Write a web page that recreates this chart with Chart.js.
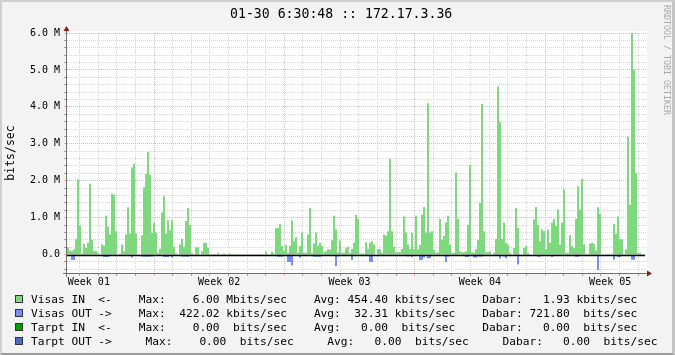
<!DOCTYPE html>
<html>
<head>
<meta charset="utf-8">
<script src="https://cdn.jsdelivr.net/npm/chart.js@4.4.0/dist/chart.umd.min.js"></script>
<style>
  body { margin: 0; background: #fff; }
  #box { position: relative; width: 675px; height: 355px; background: #f3f3f3; overflow: hidden;
         font-family: "DejaVu Sans Mono", monospace; color: #000; }
  #box canvas { position: absolute; left: 0; top: 0; }
  #frame { position: absolute; left: 0; top: 0; width: 675px; height: 355px; box-sizing: border-box;
           border-top: 2px solid #cfcfcf; border-left: 2px solid #cfcfcf;
           border-right: 3px solid #c4c4c4; border-bottom: 2px solid #9c9c9c; pointer-events: none; }
  #title { position: absolute; left: 230px; top: 7px; font-size: 13.2px; line-height: 1; white-space: pre; }
  #wm { position: absolute; left: 662px; top: 5px; font-size: 8.3px; line-height: 10px; color: #a8a8a8;
        writing-mode: vertical-rl; white-space: pre; }
  .row { position: absolute; left: 31px; font-size: 11.2px; line-height: 1; white-space: pre; }
  .sq { position: absolute; left: 15px; width: 6px; height: 6px; border: 1px solid #333; }
</style>
</head>
<body>
<div id="box">
  <canvas id="myChart" width="675" height="355"></canvas>
  <div id="title">01-30 6:30:48 :: 172.17.3.36</div>
  <div id="wm">RRDTOOL / TOBI OETIKER</div>
  <div id="legend"></div>
  <div id="frame"></div>
</div>
<script>
// values in Mbits/sec, one sample per step
const visasIn = [
  0.2, 0.2, 0.11, 0.09, 0.14, 0.43, 2.03, 0.78, 0.02, 0.29,
  0.18, 0.32, 1.92, 0.4, 0.09, 0.1, 0.05, 0, 0.27, 0.24,
  1.05, 0.75, 0.54, 1.65, 1.62, 0.63, 0, 0.03, 0.27, 0.09,
  0.54, 1.28, 0.57, 2.36, 2.46, 0.57, 0, 0, 0.52, 1.82,
  2.18, 2.78, 2.16, 0.58, 0.87, 0.6, 0.05, 0.16, 1.14, 1.58,
  0.57, 0.93, 0.66, 0.93, 0.21, 0.04, 0, 0.27, 0.42, 0.21,
  0.91, 1.26, 0.81, 0.05, 0, 0.2, 0.2, 0, 0.09, 0.32,
  0.32, 0.18, 0, 0, 0, 0, 0.05, 0, 0, 0.03,
  0, 0, 0.03, 0, 0, 0, 0, 0, 0, 0,
  0, 0, 0, 0, 0, 0, 0, 0, 0, 0,
  0.07, 0, 0, 0.07, 0.03, 0.72, 0.72, 0.83, 0.23, 0.11,
  0.26, 0.05, 0.24, 0.92, 0.36, 0.47, 0.05, 0.23, 0.6, 0.05,
  0.05, 0.54, 1.26, 0.05, 0.3, 0.6, 0.24, 0.32, 0.23, 0.06,
  0.09, 0.15, 0.13, 0.39, 1.05, 0.68, 0.06, 0.38, 0.05, 0.05,
  0.17, 0.21, 0.05, 0.15, 0.32, 1.08, 0.96, 0.03, 0.03, 0.03,
  0.33, 0.15, 0.32, 0.36, 0.27, 0, 0.15, 0.15, 0.05, 0.54,
  0.51, 0.63, 2.59, 0.63, 0.21, 0.06, 0.06, 0.06, 0.15, 1.04,
  0.6, 0.27, 0.15, 0.59, 0.15, 1.05, 0.14, 0.26, 1.08, 1.29,
  0.6, 4.1, 0.6, 0.63, 0.12, 0.05, 0.06, 0.96, 0.4, 0.5,
  0.87, 1.05, 0.27, 0.05, 0.05, 2.22, 0.96, 0.09, 0.06, 0.06,
  0.09, 0.81, 2.43, 0.06, 0.05, 0.14, 0.4, 1.4, 4.08, 0.63,
  0.06, 0.06, 0.09, 0, 0.05, 0.42, 4.55, 3.58, 0.42, 0.87,
  0.32, 0.27, 0.05, 0, 0.18, 1.26, 0.72, 0, 0, 0.18,
  0.23, 0.05, 0, 0, 0.95, 1.29, 0.81, 0.36, 0.68, 0.63,
  0.14, 0.68, 0.32, 0.87, 0.96, 0.77, 1.22, 0.27, 0.87, 1.76,
  0.05, 0.05, 0.52, 0.23, 0.18, 0.97, 1.85, 1.22, 2.05, 0.27,
  0.02, 0.02, 0.29, 0.32, 0.29, 0.11, 1.28, 1.1, 0, 0,
  0, 0.02, 0, 0.02, 0.83, 0.56, 1.03, 0.42, 0.41, 0.02,
  0.14, 3.19, 1.35, 6.0, 5.0, 2.2, 0.05, 0.05, 0, 0
];
const visasOut = [
  0, 0, 0, -0.15, -0.15, 0, 0, 0, -0.02, 0,
  0, 0, -0.03, 0, 0, 0, 0, 0, 0, -0.07,
  -0.07, -0.07, 0, -0.04, -0.04, 0, 0, 0, 0, 0,
  0, -0.04, 0, -0.08, 0, -0.04, 0, 0, -0.05, -0.05,
  -0.06, -0.06, -0.05, -0.05, 0, 0, 0, 0, 0, -0.07,
  -0.07, -0.07, 0, -0.08, 0, 0, 0, 0, -0.05, -0.05,
  -0.05, -0.06, 0, 0, 0, 0, 0, 0, 0, 0,
  0, 0, 0, 0, 0, 0, 0, 0, 0, 0,
  0, 0, 0, 0, 0, 0, 0, 0, 0, 0,
  0, 0, 0, 0, 0, 0, 0, 0, 0, 0,
  0, 0, 0, 0, 0, 0, -0.06, -0.06, -0.06, 0,
  0, -0.2, -0.2, -0.3, 0, 0, 0, -0.08, 0, 0,
  0, 0, 0, 0, -0.06, -0.06, -0.06, -0.06, 0, 0,
  -0.02, -0.02, 0, -0.04, -0.04, -0.32, -0.05, 0, 0, 0,
  -0.03, 0, 0, -0.15, -0.04, 0, 0, 0, 0, 0,
  -0.04, 0, -0.2, -0.2, 0, 0, -0.02, 0, 0, 0,
  0, 0, -0.04, 0, -0.04, 0, 0, 0, 0, 0,
  -0.04, -0.05, 0, -0.07, 0, 0, 0, -0.15, -0.15, -0.08,
  0, -0.1, -0.1, 0, 0, 0, -0.04, 0, 0, 0,
  -0.2, -0.05, 0, 0, 0, 0, 0, 0, 0, 0,
  -0.07, -0.07, 0, 0, -0.08, -0.08, -0.05, -0.05, -0.05, 0,
  0, 0, 0, 0, 0, -0.04, -0.04, -0.11, 0, -0.05,
  -0.1, 0, 0, 0, 0, -0.04, -0.27, 0, 0, -0.02,
  0, 0, 0, 0, 0, 0, -0.06, -0.06, 0, 0,
  0, 0, 0, -0.07, 0, 0, -0.04, -0.04, 0, 0,
  0, 0, 0, 0, -0.04, -0.06, -0.06, -0.04, 0, 0,
  0, 0, 0, -0.04, -0.04, 0, -0.42, 0, 0, 0,
  0, 0, 0, 0, -0.14, 0, -0.07, -0.07, 0, 0,
  0, -0.04, -0.04, -0.14, -0.14, 0, 0, 0, 0, 0
];

const weekLabels = ["Week 01", "Week 02", "Week 03", "Week 04", "Week 05"];
const samplesPerDay = 9.31;
const firstWeekStart = -21.67;   // sample index where "Week 01" begins
const yMin = -0.5, yMax = 6.0;

const legendRows = [
  "Visas IN  <-    Max:    6.00 Mbits/sec    Avg: 454.40 kbits/sec    Dabar:   1.93 kbits/sec",
  "Visas OUT ->    Max:  422.02 kbits/sec    Avg:  32.31 kbits/sec    Dabar: 721.80  bits/sec",
  "Tarpt IN  <-    Max:    0.00  bits/sec    Avg:   0.00  bits/sec    Dabar:   0.00  bits/sec",
  "Tarpt OUT ->     Max:    0.00  bits/sec     Avg:   0.00  bits/sec     Dabar:   0.00  bits/sec"
];
const legendColors = ["#7ed97e", "#7b8cf7", "#00a000", "#4f6cc0"];

const inColor = "#7ed97e";
const outColor = "#7b8cf7";
const gridGrey = "#d6d6d6";
const gridRed = "#eeb0b0";

// legend rows
const legend = document.getElementById("legend");
legendRows.forEach((txt, k) => {
  const sq = document.createElement("div");
  sq.className = "sq";
  sq.style.top = (295 + 14 * k) + "px";
  sq.style.background = legendColors[k];
  legend.appendChild(sq);
  const row = document.createElement("div");
  row.className = "row";
  row.style.top = (293.8 + 14 * k) + "px";
  row.textContent = txt;
  legend.appendChild(row);
});

// x ticks: day lines, week lines, and week labels at mid-week
const xTicks = [];
for (let d = 0; ; d++) {
  const v = firstWeekStart + d * samplesPerDay;
  if (v > visasIn.length) break;
  if (v >= 0) xTicks.push({ value: v, kind: d % 7 === 0 ? "week" : "day", text: "" });
}
weekLabels.forEach((w, k) => {
  xTicks.push({ value: firstWeekStart + (k * 7 + 3.5) * samplesPerDay, kind: "label", text: w });
});
xTicks.sort((a, b) => a.value - b.value);

const yTicks = [];
for (let k = -2; k <= 30; k++) {
  yTicks.push({ value: k / 5, major: k % 5 === 0 });
}

function steps(arr) {
  const pts = arr.map((v, i) => ({ x: i, y: v }));
  pts.push({ x: arr.length, y: arr[arr.length - 1] });
  return pts;
}

const rrdPlugin = {
  id: "rrd",
  beforeDraw(chart) {
    const a = chart.chartArea, ctx = chart.ctx;
    ctx.save();
    ctx.fillStyle = "#ffffff";
    ctx.fillRect(a.left, a.top - 2, a.right - a.left, a.bottom - a.top + 2);
    ctx.restore();
  },
  afterDatasetsDraw(chart) {
    const a = chart.chartArea, ctx = chart.ctx;
    const y0 = Math.round(chart.scales.y.getPixelForValue(0)) + 0.5;
    ctx.save();
    ctx.strokeStyle = "#000";
    ctx.lineWidth = 1.3;
    ctx.beginPath();
    ctx.moveTo(a.left, y0);
    ctx.lineTo(a.right - 2, y0);
    ctx.stroke();
    ctx.restore();
  },
  afterDraw(chart) {
    const a = chart.chartArea, ctx = chart.ctx;
    ctx.save();
    ctx.strokeStyle = "#707070";
    ctx.lineWidth = 1;
    ctx.beginPath();
    ctx.moveTo(a.left - 0.5, a.top - 2);
    ctx.lineTo(a.left - 0.5, a.bottom + 4);
    ctx.moveTo(a.left - 4, a.bottom + 0.5);
    ctx.lineTo(a.right + 1, a.bottom + 0.5);
    ctx.stroke();
    ctx.fillStyle = "#8b1c1c";
    ctx.beginPath();
    ctx.moveTo(a.left - 3.5, a.top - 2);
    ctx.lineTo(a.left + 2.5, a.top - 2);
    ctx.lineTo(a.left - 0.5, a.top - 7);
    ctx.closePath();
    ctx.fill();
    ctx.beginPath();
    ctx.moveTo(a.right, a.bottom - 2.5);
    ctx.lineTo(a.right, a.bottom + 3.5);
    ctx.lineTo(a.right + 5, a.bottom + 0.5);
    ctx.closePath();
    ctx.fill();
    ctx.restore();
  }
};

Chart.defaults.font.family = "'DejaVu Sans Mono', monospace";
Chart.defaults.color = "#000";

const config = {
  type: "line",
  data: {
    datasets: [
      {
        label: "Visas IN",
        data: steps(visasIn),
        stepped: "after",
        fill: "origin",
        backgroundColor: inColor,
        borderColor: "rgba(0,0,0,0)",
        borderWidth: 0,
        pointRadius: 0,
      },
      {
        label: "Visas OUT",
        data: steps(visasOut),
        stepped: "after",
        fill: "origin",
        backgroundColor: outColor,
        borderColor: "rgba(0,0,0,0)",
        borderWidth: 0,
        pointRadius: 0,
      },
    ],
  },
  options: {
    responsive: false,
    devicePixelRatio: 1,
    animation: false,
    layout: { padding: { left: 0, top: 33, right: 28, bottom: 0 } },
    plugins: { legend: { display: false }, tooltip: { enabled: false } },
    scales: {
      x: {
        type: "linear",
        min: 0,
        max: visasIn.length,
        afterBuildTicks: (scale) => { scale.ticks = xTicks.map((t) => Object.assign({}, t)); },
        afterFit: (scale) => { scale.height = 82; },
        border: { display: false, dash: [1, 1] },
        grid: {
          color: (c) => c.tick.kind === "week" ? gridRed : c.tick.kind === "day" ? gridGrey : "rgba(0,0,0,0)",
          tickColor: (c) => c.tick.kind === "week" ? gridRed : c.tick.kind === "day" ? "#a0a0a0" : "rgba(0,0,0,0)",
          tickLength: 3,
          tickBorderDash: [],
        },
        ticks: {
          autoSkip: false,
          maxRotation: 0,
          minRotation: 0,
          padding: 0,
          font: { size: 10 },
          callback: (v, i, ticks) => ticks[i].text || "",
        },
      },
      y: {
        type: "linear",
        min: yMin,
        max: yMax,
        afterBuildTicks: (scale) => { scale.ticks = yTicks.map((t) => Object.assign({}, t)); },
        afterFit: (scale) => { scale.width = 67; },
        border: { display: false, dash: [1, 1] },
        grid: {
          color: (c) => c.tick.major ? gridRed : gridGrey,
          tickColor: (c) => c.tick.major ? gridRed : "#a0a0a0",
          tickLength: 3,
          tickBorderDash: [],
        },
        ticks: {
          autoSkip: false,
          padding: 4,
          font: { size: 10 },
          callback: (v, i, ticks) => {
            if (!ticks[i].major || v < 0) return "";
            return v === 0 ? "0.0" : v.toFixed(1) + " M";
          },
        },
        title: {
          display: true,
          text: "bits/sec",
          font: { size: 11.5 },
          padding: { top: 4, bottom: 0 },
        },
      },
    },
  },
  plugins: [rrdPlugin],
};

var myChart = new Chart(document.getElementById("myChart"), config);
</script>
</body>
</html>
